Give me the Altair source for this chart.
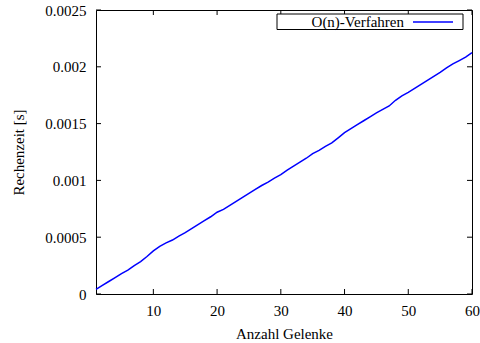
import altair as alt
import pandas as pd

# data
gelenke = list(range(1, 61))
rechenzeit = [
    0.000040, 0.000075, 0.000110, 0.000145, 0.000180, 0.000210, 0.000250, 0.000285, 0.000330, 0.000380,
    0.000420, 0.000450, 0.000475, 0.000510, 0.000540, 0.000575, 0.000610, 0.000645, 0.000680, 0.000720,
    0.000745, 0.000780, 0.000815, 0.000850, 0.000885, 0.000920, 0.000955, 0.000985, 0.001020, 0.001050,
    0.001090, 0.001125, 0.001160, 0.001195, 0.001235, 0.001265, 0.001300, 0.001330, 0.001375, 0.001420,
    0.001455, 0.001490, 0.001525, 0.001560, 0.001595, 0.001625, 0.001655, 0.001705, 0.001745, 0.001775,
    0.001810, 0.001845, 0.001880, 0.001915, 0.001950, 0.001990, 0.002025, 0.002055, 0.002085, 0.002125,
]
x_ticks = [10, 20, 30, 40, 50, 60]
y_ticks = [0, 0.0005, 0.001, 0.0015, 0.002, 0.0025]
series_label = ["O(n)-Verfahren"]
x_title = "Anzahl Gelenke"
y_title = "Rechenzeit [s]"

FONT = "Liberation Serif"
FS = 15
BLUE = "#0000ff"
W, H = 376, 284
TL = 5

df = pd.DataFrame({"n": gelenke, "t": rechenzeit})
xt = pd.DataFrame({"n": x_ticks})
yt = pd.DataFrame({"t": y_ticks})
leg = pd.DataFrame({"label": series_label})

xs = alt.Scale(domain=[1, 60], nice=False, zero=False)
ys = alt.Scale(domain=[0, 0.0025], nice=False, zero=False)
xaxis = alt.Axis(values=x_ticks, format="d", tickSize=0, domain=False, grid=False,
                 labelPadding=9, titlePadding=8, labelFlush=False)
yaxis = alt.Axis(values=y_ticks, format="~g", tickSize=0, domain=False, grid=False,
                 labelPadding=10, titlePadding=18)

line = alt.Chart(df).mark_line(color=BLUE, strokeWidth=1.5).encode(
    x=alt.X("n:Q", scale=xs, title=x_title, axis=xaxis),
    y=alt.Y("t:Q", scale=ys, title=y_title, axis=yaxis),
)

def xrule(y1, y2):
    return alt.Chart(xt).mark_rule(color="black", strokeWidth=1).encode(
        x=alt.X("n:Q", scale=xs, title=x_title, axis=xaxis), y=alt.value(y1), y2=alt.value(y2))

def yrule(x1, x2):
    return alt.Chart(yt).mark_rule(color="black", strokeWidth=1).encode(
        y=alt.Y("t:Q", scale=ys, title=y_title, axis=yaxis), x=alt.value(x1), x2=alt.value(x2))

ticks = [xrule(H, H - TL), xrule(0, TL), yrule(0, TL), yrule(W, W - TL)]

leg_box = alt.Chart(leg).mark_rect(fill="white", stroke="black", strokeWidth=1).encode(
    x=alt.value(181), x2=alt.value(367), y=alt.value(4), y2=alt.value(19.5))
leg_text = alt.Chart(leg).mark_text(font=FONT, fontSize=FS, align="right", baseline="middle",
                                    color="black").encode(
    x=alt.value(308), y=alt.value(12), text="label:N")
leg_line = alt.Chart(leg).mark_rule(color=BLUE, strokeWidth=1.5).encode(
    x=alt.value(317), x2=alt.value(357), y=alt.value(12))

chart = alt.layer(line, *ticks, leg_box, leg_text, leg_line).properties(
    width=W, height=H,
    autosize=alt.AutoSizeParams(type="none"),
    padding={"left": 96, "top": 10, "right": 8, "bottom": 49},
    background="white",
).configure_view(stroke="black", strokeWidth=1).configure_axis(
    labelFont=FONT, labelFontSize=FS, labelColor="black",
    titleFont=FONT, titleFontSize=FS, titleColor="black", titleFontWeight="normal",
)

chart.save("out.html", embed_options={"renderer": "svg", "actions": False})
